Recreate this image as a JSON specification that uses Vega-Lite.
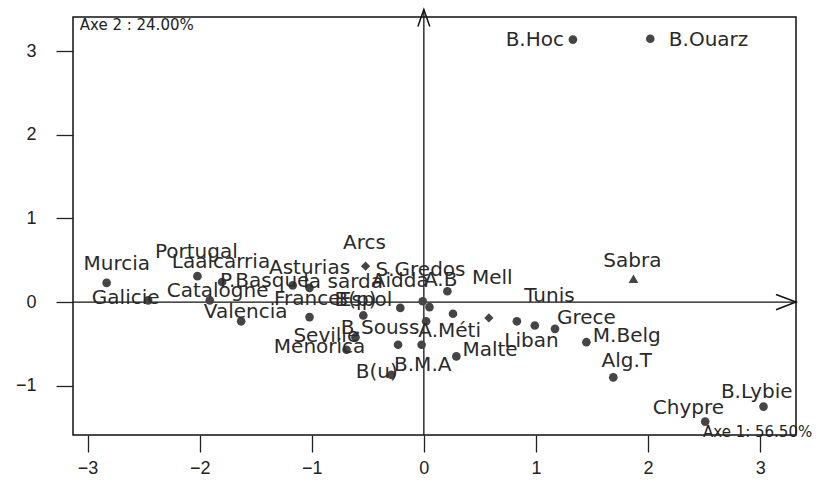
{
  "$schema": "https://vega.github.io/schema/vega-lite/v6.json",
  "width": 723,
  "height": 418,
  "autosize": {"type": "none"},
  "padding": {"left": 73, "top": 17, "right": 22, "bottom": 51},
  "background": "white",
  "config": {
    "view": {"stroke": "#111", "strokeWidth": 1.5},
    "font": "DejaVu Sans"
  },
  "datasets": {
    "pts": [
      {"name": "Murcia", "x": -2.83, "y": 0.23, "g": "a", "lx": -2.74, "ly": 0.46},
      {"name": "Galicie", "x": -2.46, "y": 0.02, "g": "a", "lx": -2.66, "ly": 0.05},
      {"name": "Portugal", "x": -2.02, "y": 0.31, "g": "a", "lx": -2.03, "ly": 0.60},
      {"name": "Laalcarria", "x": -1.80, "y": 0.24, "g": "a", "lx": -1.81, "ly": 0.48},
      {"name": "Catalogne", "x": -1.91, "y": 0.02, "g": "a", "lx": -1.84, "ly": 0.13},
      {"name": "Valencia", "x": -1.63, "y": -0.23, "g": "a", "lx": -1.59, "ly": -0.12},
      {"name": "P.Basque", "x": -1.17, "y": 0.20, "g": "a", "lx": -1.42, "ly": 0.25},
      {"name": "Asturias", "x": -1.02, "y": 0.17, "g": "a", "lx": -1.02, "ly": 0.41},
      {"name": "France", "x": -1.02, "y": -0.18, "g": "a", "lx": -1.04, "ly": 0.04},
      {"name": "B(p)", "x": -0.54, "y": -0.16, "g": "a", "lx": -0.61, "ly": 0.03},
      {"name": "Arcs", "x": -0.52, "y": 0.43, "g": "b", "lx": -0.53, "ly": 0.71},
      {"name": "la sarda", "x": -0.21, "y": -0.07, "g": "a", "lx": -0.72, "ly": 0.24},
      {"name": "Aidda", "x": -0.01, "y": 0.01, "g": "a", "lx": -0.21, "ly": 0.25},
      {"name": "Espol", "x": 0.05, "y": -0.06, "g": "a", "lx": -0.52, "ly": 0.03},
      {"name": "A.B", "x": 0.21, "y": 0.13, "g": "a", "lx": 0.15, "ly": 0.26},
      {"name": "Mell", "x": 0.26, "y": -0.14, "g": "a", "lx": 0.61, "ly": 0.29},
      {"name": "S.Gredos", "x": 0.99, "y": -0.28, "g": "a", "lx": -0.03, "ly": 0.38},
      {"name": "Tunis", "x": 0.58, "y": -0.19, "g": "b", "lx": 1.12, "ly": 0.07},
      {"name": "Liban", "x": 0.83, "y": -0.23, "g": "a", "lx": 0.96, "ly": -0.46},
      {"name": "Grece", "x": 1.17, "y": -0.32, "g": "a", "lx": 1.45, "ly": -0.19},
      {"name": "M.Belg", "x": 1.45, "y": -0.48, "g": "a", "lx": 1.81, "ly": -0.41},
      {"name": "Alg.T", "x": 1.69, "y": -0.90, "g": "a", "lx": 1.81, "ly": -0.71},
      {"name": "A.Méti", "x": 0.02, "y": -0.23, "g": "a", "lx": 0.23, "ly": -0.34},
      {"name": "Seville", "x": -0.61, "y": -0.42, "g": "a", "lx": -0.87, "ly": -0.40},
      {"name": "Menorica", "x": -0.69, "y": -0.57, "g": "a", "lx": -0.93, "ly": -0.54},
      {"name": "B.Souss", "x": -0.23, "y": -0.51, "g": "a", "lx": -0.39, "ly": -0.31},
      {"name": "B.M.A", "x": -0.02, "y": -0.51, "g": "a", "lx": -0.01, "ly": -0.75},
      {"name": "Malte", "x": 0.29, "y": -0.65, "g": "a", "lx": 0.59, "ly": -0.57},
      {"name": "B(u)", "x": -0.29, "y": -0.87, "g": "a", "lx": -0.42, "ly": -0.84},
      {"name": "B.Lybie", "x": 3.03, "y": -1.25, "g": "a", "lx": 2.97, "ly": -1.08},
      {"name": "Chypre", "x": 2.51, "y": -1.43, "g": "a", "lx": 2.36, "ly": -1.27},
      {"name": "Sabra", "x": 1.87, "y": 0.28, "g": "c", "lx": 1.86, "ly": 0.49},
      {"name": "B.Hoc", "x": 1.33, "y": 3.14, "g": "a", "lx": 0.99, "ly": 3.14},
      {"name": "B.Ouarz", "x": 2.02, "y": 3.15, "g": "a", "lx": 2.54, "ly": 3.14}
    ],
    "notes": [
      {"t": "Axe 2 : 24.00%", "x": -3.07, "y": 3.32},
      {"t": "Axe 1: 56.50%", "x": 2.49, "y": -1.56}
    ],
    "axes": [
      {"x": -3.13, "y": 0, "x2": 3.32, "y2": 0},
      {"x": 0, "y": -1.59, "x2": 0, "y2": 3.5}
    ],
    "arrows": [
      {"x": 3.32, "y": 0, "dir": "right"},
      {"x": 0, "y": 3.5, "dir": "up"}
    ]
  },
  "layer": [
    {
      "data": {"name": "axes"},
      "mark": {"type": "rule", "color": "#111", "strokeWidth": 1.3, "clip": false},
      "encoding": {
        "x": {"field": "x", "type": "quantitative"},
        "y": {"field": "y", "type": "quantitative"},
        "x2": {"field": "x2"},
        "y2": {"field": "y2"}
      }
    },
    {
      "data": {"name": "arrows"},
      "transform": [{"filter": "datum.dir == 'right'"}],
      "mark": {"type": "point", "shape": "M -1 -0.38 L 0 0 L -1 0.38", "filled": false, "stroke": "#111", "strokeWidth": 1.5, "size": 1600, "opacity": 1},
      "encoding": {
        "x": {"field": "x", "type": "quantitative"},
        "y": {"field": "y", "type": "quantitative"}
      }
    },
    {
      "data": {"name": "arrows"},
      "transform": [{"filter": "datum.dir == 'up'"}],
      "mark": {"type": "point", "shape": "M -0.35 1 L 0 0 L 0.35 1", "filled": false, "stroke": "#111", "strokeWidth": 1.5, "size": 1156, "opacity": 1},
      "encoding": {
        "x": {"field": "x", "type": "quantitative"},
        "y": {"field": "y", "type": "quantitative"}
      }
    },
    {
      "data": {"name": "pts"},
      "mark": {"type": "point", "filled": true, "opacity": 1, "color": "#454545"},
      "encoding": {
        "x": {
          "field": "x", "type": "quantitative",
          "scale": {"domain": [-3.13, 3.32], "nice": false, "zero": false},
          "axis": {
            "title": null, "grid": false, "domain": false,
            "values": [-3, -2, -1, 0, 1, 2, 3], "format": "d",
            "tickSize": 17, "tickColor": "#222", "tickWidth": 1.3,
            "labelFontSize": 18, "labelColor": "#222", "labelPadding": 7,
            "labelFont": "Liberation Sans"
          }
        },
        "y": {
          "field": "y", "type": "quantitative",
          "scale": {"domain": [-1.59, 3.41], "nice": false, "zero": false},
          "axis": {
            "title": null, "grid": false, "domain": false,
            "values": [-1, 0, 1, 2, 3], "format": "d",
            "tickSize": 17, "tickColor": "#222", "tickWidth": 1.3,
            "labelFontSize": 18, "labelColor": "#222", "labelPadding": 20,
            "labelFont": "Liberation Sans"
          }
        },
        "shape": {
          "field": "g", "type": "nominal",
          "scale": {"domain": ["a", "b", "c"], "range": ["circle", "diamond", "triangle-up"]},
          "legend": null
        },
        "size": {
          "field": "g", "type": "nominal",
          "scale": {"domain": ["a", "b", "c"], "range": [75, 95, 220]},
          "legend": null
        }
      }
    },
    {
      "data": {"name": "pts"},
      "mark": {"type": "text", "fontSize": 20, "font": "DejaVu Sans", "color": "#2a2a2a", "align": "center", "baseline": "middle"},
      "encoding": {
        "x": {"field": "lx", "type": "quantitative"},
        "y": {"field": "ly", "type": "quantitative"},
        "text": {"field": "name"}
      }
    },
    {
      "data": {"name": "notes"},
      "mark": {"type": "text", "fontSize": 15, "font": "DejaVu Sans", "color": "#222", "align": "left", "baseline": "middle"},
      "encoding": {
        "x": {"field": "x", "type": "quantitative"},
        "y": {"field": "y", "type": "quantitative"},
        "text": {"field": "t"}
      }
    }
  ]
}
